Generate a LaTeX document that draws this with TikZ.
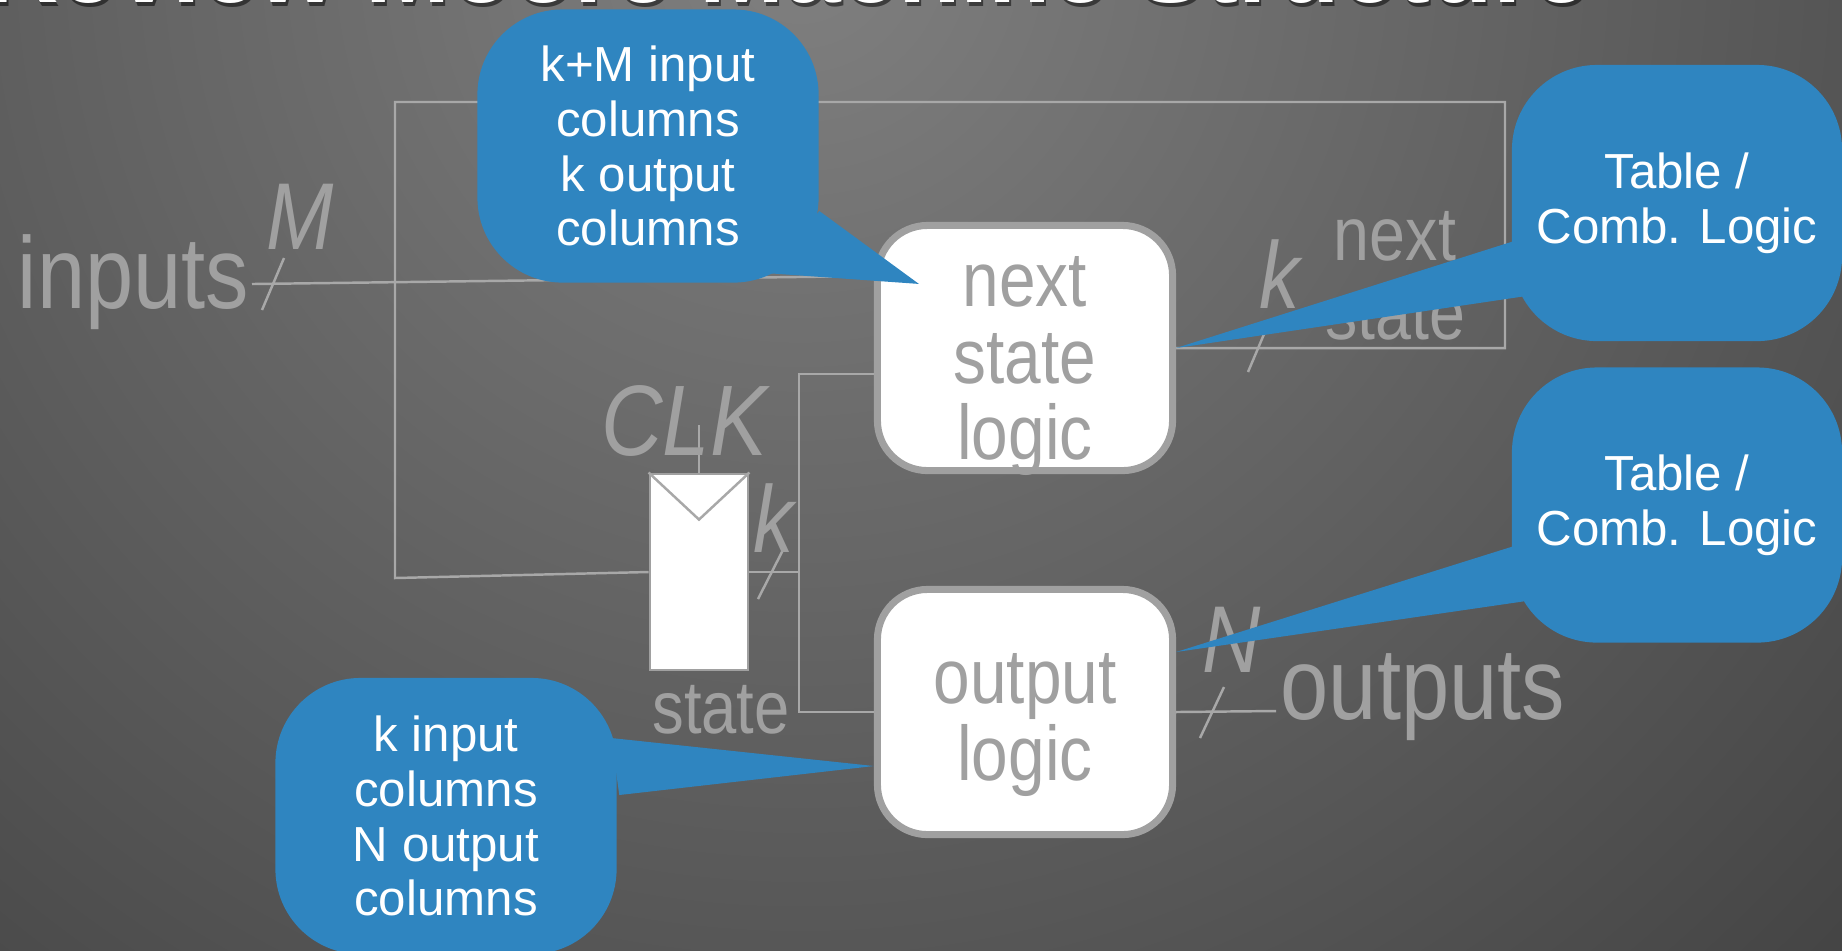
\documentclass[tikz,border=0pt]{standalone}
\usepackage{fontspec}
\setmainfont{Liberation Sans}
\newfontfamily\narrowfont[FakeStretch=0.85]{Liberation Sans}
\usetikzlibrary{calc}
\definecolor{callblue}{RGB}{47,133,192}
\definecolor{wiregray}{RGB}{168,168,168}
\definecolor{inkgray}{RGB}{160,160,160}

\begin{document}
\begin{tikzpicture}[x=0.01cm,y=-0.01cm,
    wire/.style={wiregray,line width=0.7pt},
    logicbox/.style={draw=inkgray,fill=white,line width=2pt,rounded corners=0.5cm,
        minimum width=2.95cm,minimum height=2.45cm,inner sep=0pt},
    boxtext/.style={text=inkgray,align=center,inner sep=0pt,font=\narrowfont\fontsize{22}{21.8}\selectfont},
    lbl/.style={text=inkgray,inner sep=0pt,font=\narrowfont\fontsize{29}{30}\selectfont},
    ital/.style={text=inkgray,inner sep=0pt,font=\narrowfont\itshape\fontsize{27}{28}\selectfont},
    callout/.style={fill=callblue,rounded corners=0.85cm,text=white,align=center,
        inner sep=0pt,font=\fontsize{14}{15.6}\selectfont}]
    \useasboundingbox (0,0) rectangle (1842,950);
    \clip (0,0) rectangle (1842,950);
    % background
    \fill[black!81] (0,0) rectangle (1842,950);
    \shade[inner color=black!50,outer color=black!82] (800,-50) circle (2000);
    \node[anchor=base west,text=black,opacity=0.5,inner sep=0pt,font=\bfseries\fontsize{29}{32}\selectfont] at (-13,6) {Review Moore Machine Structure};
    \node[anchor=base west,text=white,inner sep=0pt,font=\bfseries\fontsize{29}{32}\selectfont] (title) at (-15,2) {Review Moore Machine Structure};

    % blocks
    \node[logicbox,label={[boxtext,yshift=-0.18cm]center:next\\state\\logic}] (nsl) at (1025,348) {};
    \node[logicbox,label={[boxtext,yshift=-0.13cm]center:output\\logic}] (ol) at (1025,712) {};
    \node[draw=inkgray,fill=white,line width=0.8pt,minimum width=0.98cm,minimum height=1.96cm,inner sep=0pt] (reg) at (699,572) {};
    \draw[wire] (reg.north west) -- ($(reg.north)+(0,47)$) -- (reg.north east);

    % inputs
    \node[lbl,anchor=base east] (inputs) at (250,308) {inputs};
    \coordinate (inp) at (252,284);
    \draw[wire] (inp) -- ($(nsl.west)+(0,-72)$);
    \draw[wire] (262,310) -- (284,258);
    \node[ital,anchor=base] (mlbl) at (300,249) {M};

    % state loop
    \draw[wire] (nsl.east) -| (1505,102) -| (395,578) -- (reg.west);
    \draw[wire] (1248,372) -- (1270,320);
    \node[ital,anchor=base] (klbl) at (1280,308) {k};
    \node[lbl,anchor=south,align=center,font=\narrowfont\fontsize{21.6}{22.5}\selectfont] (nxtlbl) at (1395,341) {next\\state};
    \coordinate (bus) at (799,572);
    \draw[wire] (reg.east) -- (bus);
    \draw[wire] ($(nsl.west)+(0,26)$) -| (bus) |- (ol.west);
    \draw[wire] (758,599) -- (785,546);
    \node[ital,anchor=base] (kreg) at (774,552) {k};
    \coordinate (clkin) at (699,425);
    \draw[wire] (reg.north) -- (clkin);
    \node[ital,anchor=base,font=\narrowfont\itshape\fontsize{28.5}{29}\selectfont] (clk) at (684,455) {CLK};
    \node[lbl,anchor=base,font=\narrowfont\fontsize{21.2}{22}\selectfont] (statelbl) at (721,733) {state};

    % outputs
    \node[lbl,anchor=base west] (outputs) at (1280,719) {outputs};
    \coordinate (outp) at (1276,711);
    \draw[wire] (ol.east) -- (outp);
    \draw[wire] (1200,738) -- (1224,687);
    \node[ital,anchor=base] (nlbl) at (1232,672) {N};

    % callouts
    \node[callout,minimum width=3.41cm,minimum height=2.73cm] (kmcall) at (648,146) {k+M input\\columns\\k output\\columns};
    \fill[callblue] ($(kmcall.east)+(0,65)$) -- ($(nsl.north west)+(45,62)$) -- ($(kmcall.south east)+(-50,-10)$) -- cycle;
    \node[callout,minimum width=3.3cm,minimum height=2.76cm] (tab1) at (1677,203) {Table /\\Comb. Logic};
    \fill[callblue] ($(tab1.west)+(3,38)$) -- (nsl.east) -- ($(tab1.west)+(15,93)$) -- cycle;
    \node[callout,minimum width=3.3cm,minimum height=2.75cm] (tab2) at (1677,505) {Table /\\Comb. Logic};
    \fill[callblue] ($(tab2.west)+(3,41)$) -- ($(ol.east)+(0,-60)$) -- ($(tab2.west)+(15,96)$) -- cycle;
    \node[callout,minimum width=3.41cm,minimum height=2.76cm] (kncall) at (446,816) {k input\\columns\\N output\\columns};
    \fill[callblue] ($(kncall.east)+(-6,-78)$) -- ($(ol.west)+(0,54)$) -- ($(kncall.east)+(2,-21)$) -- cycle;
\end{tikzpicture}
\end{document}
